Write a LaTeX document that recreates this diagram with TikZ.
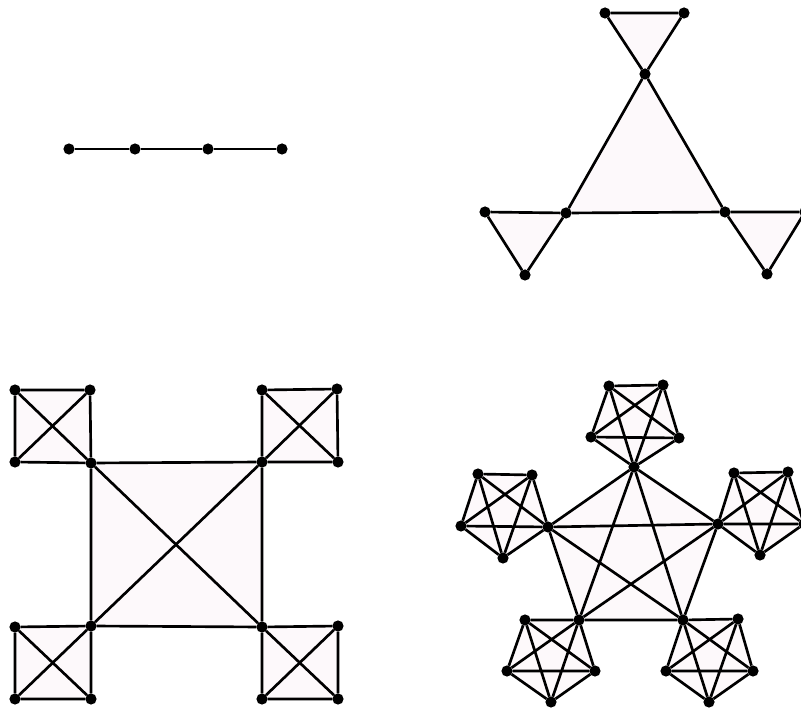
\documentclass[tikz,border=0pt]{standalone}
\usepackage{xcolor}
\usepackage{tikz}
\usetikzlibrary{backgrounds}
\definecolor{facepink}{HTML}{FDF9FB}
\tikzset{
  vertex/.style={circle, fill=black, inner sep=0pt, minimum size=8.4pt, outer sep=0pt},
  edge/.style={draw=black, line width=2pt, line join=round},
  face/.style={fill=facepink}
}

\begin{document}
\begin{tikzpicture}[x=0.75pt,y=-0.75pt]
  \useasboundingbox (0,0) rectangle (801,709);

  % path
  \node[vertex] (l1) at (69,149) {};
  \node[vertex] (l2) at (135,149) {};
  \node[vertex] (l3) at (208,149) {};
  \node[vertex] (l4) at (282,149) {};
  \draw[edge] (l1) -- (l2);
  \draw[edge] (l2) -- (l3);
  \draw[edge] (l3) -- (l4);

  % triangles
  \node[vertex] (tc1) at (645,74) {};
  \node[vertex] (tc2) at (566,213) {};
  \node[vertex] (tc3) at (725,212) {};
  \node[vertex] (ta1) at (605,13) {};
  \node[vertex] (ta2) at (684,13) {};
  \node[vertex] (tb1) at (485,212) {};
  \node[vertex] (tb2) at (525,275) {};
  \node[vertex] (td1) at (805,212) {};
  \node[vertex] (td2) at (767,274) {};

  \begin{scope}[on background layer]
    \fill[face] (tc1.center) -- (tc2.center) -- (tc3.center) -- cycle;
    \fill[face] (ta1.center) -- (ta2.center) -- (tc1.center) -- cycle;
    \fill[face] (tb1.center) -- (tc2.center) -- (tb2.center) -- cycle;
    \fill[face] (tc3.center) -- (td1.center) -- (td2.center) -- cycle;
  \end{scope}

  \draw[edge] (tc1) -- (tc2) -- (tc3) -- (tc1);
  \draw[edge] (ta1) -- (ta2) -- (tc1) -- (ta1);
  \draw[edge] (tb1) -- (tc2) -- (tb2) -- (tb1);
  \draw[edge] (tc3) -- (td1) -- (td2) -- (tc3);

  % squares
  \node[vertex] (sq1) at (91,463) {};
  \node[vertex] (sq2) at (262,462) {};
  \node[vertex] (sq3) at (262,627) {};
  \node[vertex] (sq4) at (91,626) {};
  \node[vertex] (tl1) at (15,390) {};
  \node[vertex] (tl2) at (90,390) {};
  \node[vertex] (tl3) at (15,462) {};
  \node[vertex] (tr1) at (262,390) {};
  \node[vertex] (tr2) at (337,389) {};
  \node[vertex] (tr3) at (338,462) {};
  \node[vertex] (bl1) at (15,627) {};
  \node[vertex] (bl2) at (15,699) {};
  \node[vertex] (bl3) at (91,699) {};
  \node[vertex] (br1) at (338,626) {};
  \node[vertex] (br2) at (338,699) {};
  \node[vertex] (br3) at (262,699) {};

  \begin{scope}[on background layer]
    \fill[face] (sq1.center) -- (sq2.center) -- (sq3.center) -- (sq4.center) -- cycle;
    \fill[face] (tl1.center) -- (tl2.center) -- (sq1.center) -- (tl3.center) -- cycle;
    \fill[face] (tr1.center) -- (tr2.center) -- (tr3.center) -- (sq2.center) -- cycle;
    \fill[face] (bl1.center) -- (sq4.center) -- (bl3.center) -- (bl2.center) -- cycle;
    \fill[face] (sq3.center) -- (br1.center) -- (br2.center) -- (br3.center) -- cycle;
  \end{scope}

  \draw[edge] (sq1) -- (sq2) -- (sq3) -- (sq4) -- (sq1);
  \draw[edge] (sq1) -- (sq3);
  \draw[edge] (sq2) -- (sq4);
  \draw[edge] (tl1) -- (tl2) -- (sq1) -- (tl3) -- (tl1);
  \draw[edge] (tl1) -- (sq1);
  \draw[edge] (tl2) -- (tl3);
  \draw[edge] (tr1) -- (tr2) -- (tr3) -- (sq2) -- (tr1);
  \draw[edge] (tr1) -- (tr3);
  \draw[edge] (tr2) -- (sq2);
  \draw[edge] (bl1) -- (sq4) -- (bl3) -- (bl2) -- (bl1);
  \draw[edge] (bl1) -- (bl3);
  \draw[edge] (sq4) -- (bl2);
  \draw[edge] (sq3) -- (br1) -- (br2) -- (br3) -- (sq3);
  \draw[edge] (sq3) -- (br2);
  \draw[edge] (br1) -- (br3);

  % pentagons
  \node[vertex] (c1) at (634,467) {};
  \node[vertex] (c2) at (718,524) {};
  \node[vertex] (c3) at (683,620) {};
  \node[vertex] (c4) at (579,620) {};
  \node[vertex] (c5) at (548,527) {};
  \node[vertex] (u1) at (591,437) {};
  \node[vertex] (u2) at (609,386) {};
  \node[vertex] (u3) at (663,385) {};
  \node[vertex] (u4) at (679,438) {};
  \node[vertex] (w1) at (532,475) {};
  \node[vertex] (w2) at (478,474) {};
  \node[vertex] (w3) at (461,526) {};
  \node[vertex] (w4) at (503,558) {};
  \node[vertex] (e1) at (760,555) {};
  \node[vertex] (e2) at (804,524) {};
  \node[vertex] (e3) at (788,472) {};
  \node[vertex] (e4) at (734,473) {};
  \node[vertex] (s1) at (525,620) {};
  \node[vertex] (s2) at (507,671) {};
  \node[vertex] (s3) at (551,702) {};
  \node[vertex] (s4) at (595,671) {};
  \node[vertex] (r1) at (738,619) {};
  \node[vertex] (r2) at (753,671) {};
  \node[vertex] (r3) at (709,702) {};
  \node[vertex] (r4) at (666,671) {};

  \begin{scope}[on background layer]
    \fill[face] (c1.center) -- (c2.center) -- (c3.center) -- (c4.center) -- (c5.center) -- cycle;
    \fill[face] (c1.center) -- (u1.center) -- (u2.center) -- (u3.center) -- (u4.center) -- cycle;
    \fill[face] (c5.center) -- (w1.center) -- (w2.center) -- (w3.center) -- (w4.center) -- cycle;
    \fill[face] (c2.center) -- (e1.center) -- (e2.center) -- (e3.center) -- (e4.center) -- cycle;
    \fill[face] (c4.center) -- (s1.center) -- (s2.center) -- (s3.center) -- (s4.center) -- cycle;
    \fill[face] (c3.center) -- (r1.center) -- (r2.center) -- (r3.center) -- (r4.center) -- cycle;
  \end{scope}

  \draw[edge] (c1) -- (c2) -- (c3) -- (c4) -- (c5) -- (c1);
  \draw[edge] (c1) -- (c3) -- (c5) -- (c2) -- (c4) -- (c1);
  \draw[edge] (c1) -- (u1) -- (u2) -- (u3) -- (u4) -- (c1);
  \draw[edge] (c1) -- (u2) -- (u4) -- (u1) -- (u3) -- (c1);
  \draw[edge] (c5) -- (w1) -- (w2) -- (w3) -- (w4) -- (c5);
  \draw[edge] (c5) -- (w2) -- (w4) -- (w1) -- (w3) -- (c5);
  \draw[edge] (c2) -- (e1) -- (e2) -- (e3) -- (e4) -- (c2);
  \draw[edge] (c2) -- (e2) -- (e4) -- (e1) -- (e3) -- (c2);
  \draw[edge] (c4) -- (s1) -- (s2) -- (s3) -- (s4) -- (c4);
  \draw[edge] (c4) -- (s2) -- (s4) -- (s1) -- (s3) -- (c4);
  \draw[edge] (c3) -- (r1) -- (r2) -- (r3) -- (r4) -- (c3);
  \draw[edge] (c3) -- (r2) -- (r4) -- (r1) -- (r3) -- (c3);
\end{tikzpicture}
\end{document}
